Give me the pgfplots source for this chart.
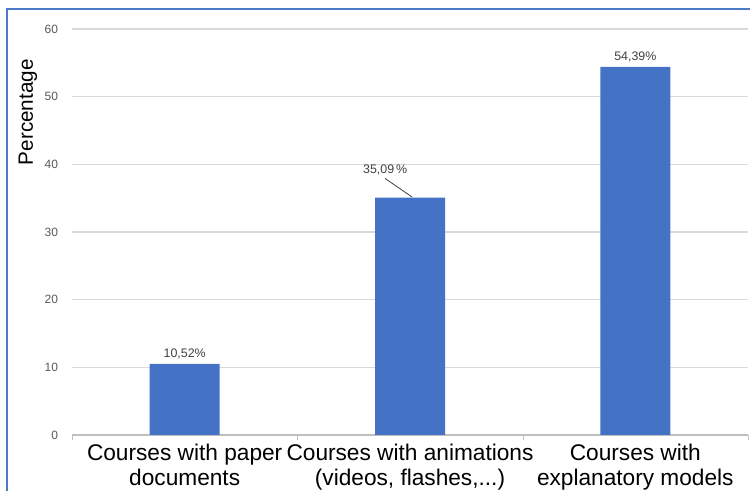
\documentclass[border=0pt]{standalone}
\usepackage{pgfplots}
\pgfplotsset{compat=1.18}
\usepackage{fontspec}
\setmainfont{Liberation Sans}
\definecolor{barblue}{HTML}{4472C4}
\definecolor{frameblue}{HTML}{4E79C6}
\definecolor{gridgray}{HTML}{D9D9D9}
\definecolor{axisgray}{HTML}{BFBFBF}
\definecolor{ticktext}{HTML}{595959}
\definecolor{labeltext}{HTML}{404040}
\begin{document}
\begin{tikzpicture}
\path[use as bounding box] (0pt,0pt) rectangle (562.5pt,368.25pt);
\draw[frameblue, line width=1.5pt] (5.25pt,0pt) -- (5.25pt,361.5pt) -- (562.5pt,361.5pt);
\begin{axis}[
    at={(54pt,42pt)}, anchor=south west,
    scale only axis, width=507pt, height=304.5pt,
    ybar, bar width=52.5pt,
    xmin=-0.5, xmax=2.5, ymin=0, ymax=60,
    ytick={0,10,20,30,40,50,60},
    xtick={0,1,2},
    xticklabels={{Courses with paper\\documents},{Courses with animations\\(videos, flashes,{.}{.}{.})},{Courses with\\explanatory models}},
    minor xtick={-0.5,0.5,1.5,2.5},
    major tick length=0pt, minor tick length=4pt,
    tick align=outside, xtick pos=bottom, ytick pos=left,
    minor tick style={axisgray},
    axis x line*=bottom, axis y line*=left,
    x axis line style={axisgray, line width=0.8pt, -},
    y axis line style={draw=none},
    ymajorgrids, grid style={gridgray, line width=0.8pt},
    /pgf/number format/assume math mode=true,
    yticklabel style={font=\fontsize{9}{10}\selectfont, text=ticktext, xshift=-7pt},
    xticklabel style={font=\fontsize{17}{19}\selectfont, align=center, text=black, yshift=-3pt},
    every axis y label/.style={at={(rel axis cs:0,0.795)}, xshift=-33pt, rotate=90, anchor=center},
    ylabel={\fontsize{15.5}{17}\selectfont Percentage},
    nodes near coords={\pgfplotspointmeta},
    point meta=explicit symbolic,
    every node near coord/.append style={font=\fontsize{9.3}{10}\selectfont, text=labeltext},
]
\addplot[fill=barblue, draw=none] coordinates {
    (0,10.52) [10,52\%]
    (1,35.09) []
    (2,54.39) [54,39\%]
};
\draw[labeltext, line width=0.6pt] (axis cs:0.89,37.9) -- (axis cs:1.01,35.15);
\node[font=\fontsize{9.3}{10}\selectfont, text=labeltext] at (axis cs:0.89,39.2) {35,09\,\%};
\end{axis}
\end{tikzpicture}
\end{document}
